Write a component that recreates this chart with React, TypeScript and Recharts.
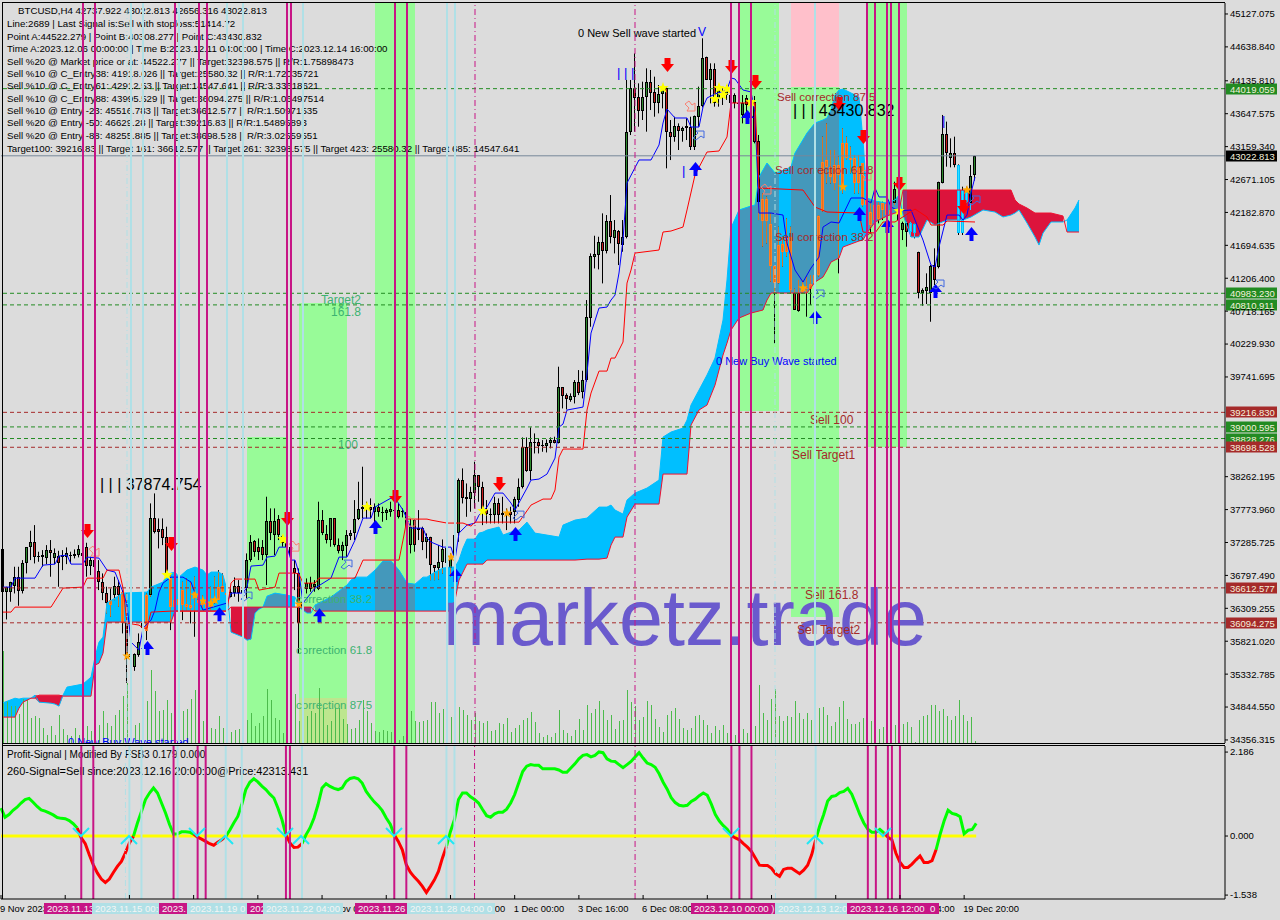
import React from "react";
import { Area, Bar, ComposedChart, Line, ReferenceArea, ReferenceLine, XAxis, YAxis } from "recharts";

const FONT = "'Liberation Sans', Arial, sans-serif";
const SLOTS = 306;
const PRICE_MIN = 34311;
const PRICE_MAX = 45290;

const opens = [
  37183,36555,36555,36639,36778,36570,36975,37213,37297,37074,37094,37050,37173,37050,37084,37074,37074,37104,37089,37099,
  37084,37213,36941,37025,36867,36693,36530,36357,36505,36639,36555,36085,35590,35442,35615,36011,35976,36505,37643,37485,
  37485,37361,36753,36332,36441,36580,36372,36317,36555,36446,36431,36382,36332,36382,36431,36639,36540,36471,36530,36639,
  36580,36604,37025,37307,37213,37213,37099,37604,37396,37628,37272,37272,37213,36901,36827,36308,36590,36679,36629,36590,
  37619,37411,37322,37643,37247,37163,37233,37381,37421,37628,37777,37841,37816,37742,37807,37742,37717,37742,37767,37767,
  37742,37742,37247,37619,37495,37495,37297,37361,36950,36901,37000,37197,36901,37074,37420,38212,37964,37925,38024,38286,
  38113,37766,37687,37692,37875,37697,37717,37742,37732,37915,38103,38696,38350,38766,38771,38721,38721,38766,38805,38766,
  39587,39473,39399,39448,39666,39513,39696,40620,41526,41555,41738,41615,42055,41798,41911,41699,41822,43381,44034,43890,
  43692,43890,44113,43974,43811,43940,44024,43371,43307,43465,43396,43430,43455,43158,43603,43762,44484,44148,44311,43875,
  43950,43925,43925,43811,43791,43628,43876,43826,43826,43243,42055,42377,42011,41388,41140,41709,41595,41823,40982,40982,
  41007,41041,41041,41120,41254,42209,42961,42862,42614,42887,42565,43208,42985,42985,42614,42911,42367,42194,42070,42080,
  42219,42308,42219,42328,42219,41922,42021,41897,42011,41590,40992,41021,40982,41402,41378,42624,43347,42985,43060,42887,
  41882,42491,42318,42738,
];
const highs = [
  37198,36629,36703,36926,36926,37025,37213,37460,37544,37149,37173,37247,37322,37198,37163,37173,37213,37149,37183,37247,
  37198,37282,37074,37173,37025,36827,36629,36604,36778,36728,36580,36530,35739,35640,35937,36110,36530,37866,38014,37643,
  37643,37520,36827,36802,36778,36703,36753,36703,36778,36728,36505,36555,36629,36778,36876,36827,36580,36604,36768,36728,
  36728,37124,37396,37322,37346,37322,37965,37792,37792,37693,37396,37322,37223,37025,36901,36431,36753,36778,36728,37891,
  37767,37544,37643,37643,37346,37297,37470,37470,37915,38187,38410,37891,37940,37866,37866,37816,37792,37891,38014,37866,
  37792,37767,37643,37643,37767,37520,37421,37371,36950,37247,37331,37247,37123,37420,38236,38385,38162,38113,38484,38286,
  38187,37915,37791,37964,37940,37964,37791,37816,37964,38236,38845,38845,38993,38904,38830,38805,38815,38845,38855,39894,
  39587,39498,39498,39696,39844,39834,40883,41575,41837,41822,42169,42144,42441,42070,41921,42070,44148,44148,44543,44098,
  44123,44321,44296,44197,44073,44073,44049,43554,43603,43504,43455,43579,43603,43620,44049,44766,44494,44395,44395,44073,
  44024,44073,44123,43950,43925,43925,43925,43925,43910,43332,42466,42417,42169,41402,41971,41823,42095,41971,41050,41180,
  41180,41229,41254,41378,42144,43307,43505,43109,43109,43010,43431,43307,43159,43035,43035,42911,42392,42342,42367,42342,
  42342,42367,42367,42639,42328,42046,42046,42046,42021,41600,41056,41279,41402,41650,42639,43629,43530,43282,43307,42896,
  42565,42565,42887,43023,
];
const lows = [
  36332,36144,36407,36530,36347,36530,36827,37025,36975,37000,36926,36965,36778,36965,36629,36876,36965,36975,37050,37065,
  37025,36778,36802,36778,36580,36431,36233,36184,36431,36332,35937,35204,35442,35382,35590,35862,35838,36481,37421,37198,
  37247,36778,35986,35986,35986,36134,36283,36085,35887,36308,36283,36283,36283,36382,36431,36555,36332,36471,36481,36407,
  36481,36456,37000,37074,37025,37025,36654,37322,37099,37322,37223,37074,36926,36580,35640,36085,36530,36555,36555,36580,
  37396,37272,37223,37223,37124,37025,37074,37322,37322,37619,37643,37643,37643,37569,37668,37594,37619,37668,37668,37643,
  37658,37396,37124,37149,37322,37173,37050,36727,36727,36737,36826,36925,36777,36925,37296,37865,37667,37742,37791,37890,
  37544,37569,37569,37569,37569,37569,37470,37569,37569,37816,38088,38335,38212,38607,38607,38632,38622,38682,38756,38756,
  39275,39260,39374,39349,39473,39424,39671,40487,41352,41338,41130,41575,41724,41575,41402,41600,41798,43331,43381,43455,
  43554,43381,43702,43603,43653,43727,42837,42960,43232,43109,43232,43257,43109,43109,43455,43742,44148,43801,43752,43752,
  43777,43851,43603,43727,43603,43504,43554,43603,43208,42070,41675,41724,41155,40240,41130,41378,41526,40982,40735,40710,
  40982,40636,40809,41081,41229,42194,42614,42614,42515,41279,42466,42961,42763,42466,42466,42268,41947,41872,41947,42021,
  42070,41971,41897,42293,41971,41773,41674,41823,41798,40908,40799,40824,40561,40982,41353,42614,42862,42852,42852,41848,
  41848,42318,42219,42656,
];
const closes = [
  36555,36629,36703,36778,36570,36975,37213,37297,37074,37089,37074,37173,37124,37134,36975,37099,37134,37094,37109,37183,
  37124,36941,37025,36926,36693,36530,36382,36431,36644,36505,36085,35590,35625,35625,35808,36085,36505,37643,37445,37445,
  37346,36827,36332,36431,36357,36357,36332,36357,36466,36392,36357,36308,36407,36456,36629,36555,36505,36555,36639,36530,
  36530,37025,37297,37149,37149,37099,37604,37421,37609,37396,37381,37213,37099,36827,36085,36407,36679,36590,36669,37619,
  37421,37322,37643,37247,37163,37247,37396,37431,37628,37777,37807,37777,37767,37816,37742,37727,37767,37777,37757,37668,
  37757,37520,37510,37247,37470,37297,37361,36950,36911,37000,37183,36975,37049,37395,38212,37949,37925,38039,38286,38103,
  37717,37702,37702,37865,37692,37717,37737,37692,37930,38103,38696,38350,38781,38781,38721,38731,38756,38805,38766,39587,
  39463,39409,39458,39666,39508,39696,40626,41536,41565,41738,41615,42060,41813,41921,41709,41822,43381,44034,43875,43692,
  43890,44113,43960,43811,43940,44024,43371,43307,43465,43396,43440,43465,43158,43613,43762,44469,44148,44306,43801,44024,
  43890,44024,43801,43925,43801,43801,43777,43791,43232,42342,42377,42055,41388,41140,41699,41595,41823,41031,40735,40725,
  41081,41056,41120,41254,42130,42936,42852,42713,42887,42738,43208,42985,42961,42614,42852,42293,42293,41996,42293,42293,
  42318,42144,42144,42525,42070,42021,41897,42021,41872,40992,41031,41081,41388,41180,42639,43347,43060,43060,42887,41882,
  42515,42342,42728,43023,
];
const volumes = [
  920,420,370,370,290,440,430,250,270,250,150,80,170,80,280,140,80,70,150,80,
  200,170,120,270,180,320,200,170,280,330,470,600,270,180,200,230,420,730,520,320,
  330,430,300,300,370,320,340,440,530,300,220,200,150,140,270,150,250,110,130,140,
  180,230,300,170,200,270,540,430,250,230,100,130,120,490,220,200,270,320,300,550,
  350,180,220,350,350,240,190,140,150,230,430,320,200,120,110,130,120,110,70,30,
  70,100,320,220,210,220,230,410,410,300,340,150,260,200,360,330,280,230,300,220,
  200,220,120,130,200,190,250,110,150,180,230,250,310,210,100,60,80,60,100,330,
  130,100,70,130,240,130,380,300,340,420,330,230,280,140,220,230,530,410,370,230,
  260,420,380,240,160,110,280,320,350,240,150,130,150,270,280,230,180,100,170,130,
  180,100,130,80,100,140,100,200,170,580,300,230,440,540,270,220,270,260,420,300,
  240,300,230,370,350,360,280,170,210,360,420,240,190,190,210,250,300,220,270,140,
  160,200,150,180,150,190,210,160,10,230,270,280,380,380,320,340,270,230,270,430,
  280,220,260,20,
];

// conversion line, sparse [bar, price]
const tenkan = [
  [0,36624],[2,36624],[3,36757],[8,36757],[10,36950],[13,36965],[14,37084],[16,37099],[17,36965],[20,36965],[21,37069],[24,37054],
  [26,36876],[28,36847],[30,36550],[31,36357],[32,35808],[34,35689],[35,36015],[37,36134],[38,36283],[39,36550],[40,36683],[42,36772],
  [45,36772],[47,36698],[48,36535],[50,36283],[56,36387],[57,36535],[60,36535],[61,36624],[62,36936],[65,36950],[66,37069],[68,37084],
  [69,37217],[71,37217],[72,37025],[73,37025],[74,36832],[75,36387],[78,36609],[82,36757],[84,37069],[86,37069],[88,37321],[90,37648],
  [92,37648],[93,37811],[97,37945],[98,37945],[100,37767],[101,37633],[102,37499],[105,37499],[106,37351],[107,37292],[110,37217],[112,37217],
  [113,37025],[114,37425],[116,37544],[118,37574],[119,37692],[121,37811],[123,38019],[125,38019],[127,37871],[128,37767],[131,38093],[132,38212],
  [134,38227],[136,38301],[138,38538],[139,38998],[140,39043],[141,39251],[145,39295],[146,39800],[147,40393],[149,40764],[151,40779],[152,40883],
  [153,40957],[154,41284],[155,41773],[156,42619],[159,42961],[162,42961],[164,43183],[165,43510],[166,43717],[168,43584],[171,43584],[172,43450],
  [174,43450],[175,43747],[176,43881],[178,43940],[181,43999],[182,44177],[183,44163],[185,43999],[187,43970],[188,43658],[189,42174],[192,42174],
  [195,42144],[196,41729],[198,41328],[200,41150],[202,41358],[204,41521],[205,41966],[207,42041],[209,42026],[212,42397],[215,42397],[217,42322],
  [218,42545],[219,42412],[221,42412],[222,42263],[224,42204],[227,42219],[230,41773],[232,41402],[233,41373],[234,41670],[236,42144],[239,42144],
  [240,42070],[241,42144],[242,42471],[243,42708],
];
// base line, sparse [bar, price]
const kijun = [
  [0,36253],[2,36253],[3,36327],[12,36327],[15,36609],[20,36624],[21,36757],[25,36757],[26,36876],[29,36876],[30,36609],[31,36090],
  [34,36060],[35,36015],[36,36015],[37,36253],[42,36268],[56,36268],[57,36683],[58,36743],[63,36743],[64,36579],[68,36624],[69,36832],
  [73,36832],[74,36817],[75,36683],[78,36683],[79,36757],[88,36757],[90,37025],[99,37025],[100,37321],[101,37633],[106,37633],[107,37618],
  [111,37574],[115,37574],[117,37529],[118,37588],[129,37588],[132,37841],[135,37930],[137,37930],[138,38064],[139,38553],[140,38672],[145,38672],
  [146,39251],[147,39503],[149,39829],[151,39829],[152,40022],[153,40022],[155,40260],[156,41135],[157,41328],[158,41580],[164,41625],[165,41892],
  [167,41907],[170,41966],[171,42219],[173,42738],[176,43079],[179,43094],[181,43302],[182,43807],[188,43807],[189,42545],[200,42515],[203,42263],
  [206,42189],[214,42174],[215,41892],[218,41877],[220,42041],[223,42041],[228,42233],[231,42115],[232,41996],[235,41996],[236,42055],[243,42041],
];
// cloud edges at the same bars: [bar, upper, lower]
const cloud = [
  [0,34907,34695],[3,34976,34695],[4,34962,34828],[5,34976,34917],[7,34976,34976],[8,35021,34976],[9,35021,34917],[12,35021,34902],[13,35021,34888],
  [14,35021,34858],[15,35021,35006],[16,35140,35006],[20,35185,35006],[22,35288,35006],[23,35585,35466],[24,35808,35496],[25,35882,35644],[26,36387,36105],
  [30,36535,36105],[36,36550,36105],[37,36624,36105],[40,36698,36105],[41,36802,36105],[42,36832,36105],[43,36847,36268],[44,36772,36268],[46,36876,36268],
  [48,36921,36268],[50,36876,36268],[51,36802,36268],[52,36847,36268],[54,36847,36268],[55,36802,36268],[56,36579,36268],[57,36327,35956],[60,36327,35882],
  [61,36327,35837],[62,36327,35852],[63,36327,36238],[64,36327,36297],[65,36327,36327],[66,36490,36327],[68,36535,36327],[71,36505,36327],[73,36476,36327],
  [74,36327,36327],[76,36327,36238],[77,36327,36238],[78,36357,36268],[82,36476,36268],[86,36654,36268],[87,36728,36268],[88,36772,36268],[91,36772,36268],
  [93,36876,36268],[95,37010,36268],[97,37010,36268],[99,36876,36268],[101,36683,36268],[103,36668,36268],[105,36772,36268],[106,36772,36268],[108,36847,36268],
  [110,36906,36268],[112,36921,36268],[113,36921,36431],[114,37025,36728],[115,37203,36847],[116,37336,36965],[118,37336,36965],[119,37425,36965],[120,37440,36965],
  [121,37470,37025],[124,37515,37025],[125,37396,37025],[127,37440,37025],[129,37470,37025],[131,37588,37025],[133,37425,37025],[139,37366,37025],[140,37544,37025],
  [143,37618,37025],[146,37648,37039],[149,37811,37039],[151,37811,37054],[152,37841,37247],[153,37767,37366],[155,37707,37366],[156,37915,37663],[158,38019,37856],
  [161,38093,37856],[164,38212,37856],[165,38850,38301],[167,38924,38301],[170,38983,38301],[171,39102,38301],[172,39325,39028],[174,39547,39251],[176,39770,39325],
  [178,40022,39621],[180,40586,40067],[181,41180,40245],[182,41951,40438],[184,42219,40616],[187,42278,40690],[188,42293,40705],[189,42708,40720],[190,42812,40735],
  [191,42916,40883],[192,42842,40987],[193,42768,40987],[194,42783,40987],[197,42857,40987],[198,43064,40987],[201,43361,40987],[203,43510,41150],[205,43554,41224],
  [206,43584,41328],[207,43703,41447],[208,43925,41477],[209,43999,41506],[210,44014,41670],[214,43896,41759],[215,43257,41774],[216,42397,41877],[218,42352,42041],
  [221,42322,42130],[223,42367,42174],[224,42441,42189],[225,42515,42144],[226,42515,41981],[227,42515,41818],[229,42515,41818],[231,42515,42070],[233,42515,41996],
  [236,42515,42070],[240,42515,42070],[242,42515,42115],[245,42515,42219],[248,42515,42189],[250,42515,42115],[252,42515,42144],[253,42367,42174],[254,42308,42219],
  [256,42248,42026],[258,42174,41818],[259,42174,41699],[260,42174,41877],[262,42174,42041],[265,42130,42041],[266,42070,41892],[268,42248,41892],[269,42367,41892],
];
const redCloud = [[8,15],[57,65],[74,77],[225,265]];
const blueCloud = [[0,8],[15,56],[65,73],[78,224],[266,269]];

const sellArrows = [[21,37455],[42,37262],[71,37633],[98,37959],[124,38152],[166,44370],[182,44341],[188,44118],[209,43792],[215,43302],[224,42605],[240,42263]];
const buyArrows = [[36,35719],[54,36223],[79,36208],[93,37515],[113,36802],[128,37411],[173,42827],[186,43599],[214,42159],[203,40631],[221,41981],[233,41017],[242,41862]];
const yellowStars = [[41,36802],[70,37336],[91,37811],[120,37752],[165,44029],[178,43866],[179,44029],[180,43925],[181,44014],[187,43821],[224,42204]];
const orangeStars = [[31,35600],[48,36505],[50,36416],[52,36387],[53,36431],[74,36372],[112,37069],[126,37722],[200,41061],[210,42560],[241,42515]];
const sellHollow = [[23,37143],[73,37217],[102,37588],[172,43747],[191,42515],[216,42723]];
const buyHollow = [[61,36520],[86,36995],[129,37722],[174,43361],[204,41002],[234,41150],[243,42397]];

const oscillator = [
  0.73,0.49,0.56,0.67,0.75,0.86,0.95,0.98,0.88,0.77,0.68,0.65,0.60,0.55,0.48,0.46,0.45,0.40,0.32,0.21,
  -0.05,-0.20,-0.49,-0.75,-0.96,-1.12,-1.21,-1.12,-0.95,-0.79,-0.66,-0.44,-0.18,-0.01,0.34,0.64,0.95,1.12,1.25,1.12,
  0.86,0.60,0.30,0.05,0.06,0.11,0.11,0.10,0.05,-0.03,-0.08,-0.14,-0.20,-0.24,-0.16,-0.10,-0.01,0.15,0.34,0.51,
  0.82,1.21,1.40,1.49,1.41,1.30,1.21,1.09,0.99,0.73,0.43,0.03,-0.18,-0.30,-0.29,-0.20,0.03,0.21,0.47,0.82,
  1.25,1.36,1.29,1.24,1.21,1.25,1.42,1.50,1.52,1.49,1.38,1.16,1.02,0.89,0.79,0.66,0.47,0.31,0.03,-0.14,
  -0.36,-0.75,-0.94,-1.07,-1.18,-1.31,-1.47,-1.31,-1.14,-0.92,-0.57,-0.27,0.12,0.43,0.95,1.12,1.12,1.02,0.95,0.86,
  0.69,0.53,0.49,0.58,0.62,0.62,0.70,0.86,1.08,1.38,1.68,1.82,1.86,1.84,1.84,1.75,1.75,1.75,1.75,1.72,
  1.66,1.66,1.77,1.88,2.01,2.10,2.12,2.06,2.10,2.19,2.17,2.01,1.95,1.94,1.86,1.78,1.86,1.94,2.06,2.17,
  2.03,1.90,1.86,1.79,1.62,1.40,1.22,1.00,0.87,0.80,0.78,0.80,0.90,0.96,1.05,1.12,1.06,0.83,0.56,0.39,
  0.27,0.17,0.01,-0.05,-0.10,-0.20,-0.29,-0.40,-0.58,-0.76,-0.77,-0.77,-0.84,-0.98,-1.05,-0.87,-0.84,-0.84,-0.91,-0.98,
  -0.89,-0.76,-0.49,-0.10,0.26,0.56,0.91,1.03,1.05,1.13,1.16,1.24,1.09,0.83,0.56,0.34,0.18,0.10,0.10,0.17,
  0.08,-0.03,-0.10,-0.45,-0.68,-0.82,-0.82,-0.73,-0.62,-0.52,-0.69,-0.69,-0.64,-0.36,0.04,0.39,0.67,0.59,0.56,0.50,
  0.06,0.15,0.17,0.33,
];
const crossDown = [20,49,71,98,182,220];
const crossUp = [32,56,75,111,203];

const magentaLines = [20,23,43,49,51,71,72,98,101,182,184,187,216,218,221,222,224];
const lightBlueLines = [32,35,44,56,60,75,111,113,203];
const dashedBlueLines = [31,193];
const dashedMagentaLines = [118,158];

const priceTicks = [45127.075,44638.84,44135.81,43647.575,43159.34,42671.105,42182.87,41694.635,41206.4,40718.165,40229.93,39741.695,38262.195,37773.96,37285.725,36797.49,36309.255,35821.02,35332.785,34844.55,34356.315];
const oscTicks = [2.186,0,-1.538];
const dateTicks = [0,16,32,48,64,80,96,112,128,144,160,176,192,208,224,240];
const dateLabels = ["9 Nov 2023 16:00","12 Nov 08:00","15 Nov 00:00","17 Nov 16:00","20 Nov 08:00","23 Nov 00:00","25 Nov 16:00","28 Nov 08:00","1 Dec 00:00","3 Dec 16:00","6 Dec 08:00","9 Dec 00:00","11 Dec 16:00","14 Dec 08:00","17 Dec 04:00","19 Dec 20:00"];

const levels = [
  [44019.059,"#228B22"],[40983.23,"#228B22"],[40810.911,"#228B22"],[39216.83,"#A52A2A"],[39000.595,"#228B22"],
  [38828.276,"#228B22"],[38698.528,"#A52A2A"],[36612.577,"#A52A2A"],[36094.275,"#A52A2A"],
];
const lastPrice = 43022.813;

// [first bar, last bar, low price, high price, colour]
const bandAreas = [
  [61,71,PRICE_MIN,38850,"#98FB98"],[74,86,PRICE_MIN,40839,"#98FB98"],[74,86,PRICE_MIN,34980,"#BDE68E"],[93,103,PRICE_MIN,PRICE_MAX,"#98FB98"],
  [184,194,39236,PRICE_MAX,"#98FB98"],[197,209,36179,44044,"#98FB98"],[197,209,44044,PRICE_MAX,"#FFC0CB"],[216,226,38702,PRICE_MAX,"#98FB98"],
];
const bands = [[61,71],[74,86],[93,103],[184,194],[197,209],[216,226]];

const infoLines = [
  "BTCUSD,H4  42737.922 43022.813 42656.316 43022.813",
  "Line:2689 | Last Signal is:Sell with stoploss:51414.72",
  "Point A:44522.279 | Point B:40308.277 | Point C:43430.832",
  "Time A:2023.12.06 00:00:00 | Time B:2023.12.11 04:00:00 | Time C:2023.12.14 16:00:00",
  "Sell %20 @ Market price or at: 44522.277 || Target:32398.575 || R/R:1.75898473",
  "Sell %10 @ C_Entry38: 41918.026 || Target:25580.32 || R/R:1.72035721",
  "Sell %10 @ C_Entry61: 42912.53 || Target:14547.641 || R/R:3.33618621",
  "Sell %10 @ C_Entry88: 43995.529 || Target:36094.275 || R/R:1.06497514",
  "Sell %10 @ Entry -23: 45516.783 || Target:36612.577 || R/R:1.50971535",
  "Sell %20 @ Entry -50: 46629.28 || Target:39216.83 || R/R:1.54895893",
  "Sell %20 @ Entry -88: 48255.885 || Target:38698.528 || R/R:3.02559551",
  "Target100: 39216.83 || Target 161: 36612.577 || Target 261: 32398.575 || Target 423: 25580.32 || Target 685: 14547.641",
];

const dateTags = [
  [44,92,"2023.11.13","#C71585"],[92,159,"2023.11.15 00:0","#B0E0E6"],[159,187,"2023.","#C71585"],[187,247,"2023.11.19 0","#B0E0E6"],
  [247,263,"202","#C71585"],[263,343,"2023.11.22 04:00","#B0E0E6"],[355,407,"2023.11.26","#C71585"],[407,495,"2023.11.28 04:00 0","#B0E0E6"],
  [691,775,"2023.12.10 00:00 )","#C71585"],[775,847,"2023.12.13 12:0","#B0E0E6"],[847,939,"2023.12.16 12:00  0","#C71585"],
];

const pick = (list: number[][], i: number) => {
  const hit = list.find((p) => p[0] === i);
  return hit ? hit[1] : null;
};
const inRanges = (ranges: number[][], i: number) => ranges.some((r) => i >= r[0] && i <= r[1]);

const rows = Array.from({ length: SLOTS }, (_, i) => {
  const c = cloud.find((p) => p[0] === i);
  const isRed = inRanges(redCloud, i) && !(i === 8 || i === 15 || i === 65);
  return {
    i,
    open: opens[i] ?? null,
    high: highs[i] ?? null,
    low: lows[i] ?? null,
    close: closes[i] ?? null,
    range: highs[i] != null ? [lows[i], highs[i]] : null,
    volume: volumes[i] ?? null,
    tenkan: pick(tenkan, i),
    kijun: pick(kijun, i),
    upper: c ? c[1] : null,
    lower: c ? c[2] : null,
    spanA: c ? (isRed ? c[2] : c[1]) : null,
    spanB: c ? (isRed ? c[1] : c[2]) : null,
    sell: pick(sellArrows, i),
    buy: pick(buyArrows, i),
    yellow: pick(yellowStars, i),
    orange: pick(orangeStars, i),
    sellH: pick(sellHollow, i),
    buyH: pick(buyHollow, i),
  };
});

const oscRows = Array.from({ length: SLOTS }, (_, i) => {
  const v = oscillator[i];
  const next = oscillator[i + 1];
  return {
    i,
    green: v != null && (v >= 0 || next >= 0) ? v : null,
    red: v != null && (v <= 0 || next <= 0) ? v : null,
    zero: v != null ? 0 : null,
    down: crossDown.includes(i) ? 0 : null,
    up: crossUp.includes(i) ? 0 : null,
  };
});

// only used to tint the candle parts that sit over the cloud
const cloudAt = (i: number) => {
  let a = cloud[0];
  let b = cloud[cloud.length - 1];
  if (i > b[0]) return null;
  for (const p of cloud) {
    if (p[0] <= i) a = p;
    if (p[0] >= i) {
      b = p;
      break;
    }
  }
  const t = b[0] === a[0] ? 0 : (i - a[0]) / (b[0] - a[0]);
  return { upper: a[1] + (b[1] - a[1]) * t, lower: a[2] + (b[2] - a[2]) * t, red: inRanges(redCloud, i) };
};

const Candle = (props: any) => {
  const { x, width, y, height, payload } = props;
  if (payload.high == null) return null;
  const cx = Math.floor(x + width / 2);
  const unit = height / Math.max(1, payload.high - payload.low);
  const py = (v: number) => y + (payload.high - v) * unit;
  const c = cloudAt(payload.i);
  const up = payload.close >= payload.open;
  const top = Math.round(py(Math.max(payload.open, payload.close)));
  const bot = Math.round(py(Math.min(payload.open, payload.close)));
  const mid = (payload.open + payload.close) / 2;
  const tinted = c && mid <= c.upper && mid >= c.lower;
  const wickTint = c ? (c.red ? "#20CFFF" : "#D2752A") : null;
  const w1 = c ? py(Math.min(payload.high, c.upper)) : 0;
  const w2 = c ? py(Math.max(payload.low, c.lower)) : 0;
  const outer = tinted ? (c!.red ? "#00BFFF" : "#FF7F27") : "#000";
  const inner = tinted ? (c!.red ? "#30E0FF" : "#E8701A") : up ? "#2E8B2E" : "#C81E1E";
  return (
    <g>
      <rect x={cx} y={y} width={1} height={height} fill="#000" />
      {c && w2 > w1 && <rect x={cx} y={w1} width={1} height={w2 - w1} fill={wickTint!} />}
      <rect x={cx - 1} y={top} width={3} height={Math.max(1, bot - top)} fill={outer} />
      {bot - top > 2 && <rect x={cx} y={top + 1} width={1} height={bot - top - 2} fill={inner} />}
    </g>
  );
};

const VolumeBar = (props: any) => {
  const { x, width, y, height, payload } = props;
  if (payload.volume == null) return null;
  return <rect x={Math.floor(x + width / 2)} y={y} width={1} height={height} fill="#4CBB4C" />;
};

const marker = (draw: (cx: number, cy: number) => React.ReactNode) => (props: any) => {
  const { cx, cy, index } = props;
  if (cy == null || cx == null) return <g key={index} />;
  return <g key={index}>{draw(Math.floor(cx), cy)}</g>;
};

const downArrow = marker((x, y) => (
  <path d={`M${x - 2.5},${y - 7}H${x + 3.5}V${y - 1}H${x + 7}L${x + 0.5},${y + 7}L${x - 6},${y - 1}H${x - 2.5}Z`} fill="#FF0000" />
));
const upArrow = marker((x, y) => (
  <path d={`M${x - 1.5},${y + 7}H${x + 2.5}V${y + 1}H${x + 7}L${x + 0.5},${y - 7}L${x - 6},${y + 1}H${x - 1.5}Z`} fill="#0000FF" />
));
const star = (x: number, y: number, r: number, fill: string) => {
  const pts = [];
  for (let k = 0; k < 10; k++) {
    const rad = k % 2 === 0 ? r : r * 0.42;
    const a = (Math.PI / 5) * k - Math.PI / 2;
    pts.push(`${x + rad * Math.cos(a)},${y + rad * Math.sin(a)}`);
  }
  return <polygon points={pts.join(" ")} fill={fill} />;
};
const yellowStar = marker((x, y) => star(x, y, 6, "#FFFF00"));
const orangeStar = marker((x, y) => star(x, y, 5, "#FFA500"));
const hollowDown = marker((x, y) => (
  <path d={`M${x - 6},${y - 3}L${x - 2},${y - 6}L${x + 1},${y - 2}L${x + 4},${y - 4}L${x + 4},${y + 4}L${x - 4},${y + 4}L${x - 2},${y + 1}Z`} fill="none" stroke="#FA8072" />
));
const hollowUp = marker((x, y) => (
  <path d={`M${x - 6},${y + 5}L${x - 1},${y}L${x - 3},${y - 2}H${x + 5}V${y + 5}L${x + 2},${y + 3}L${x - 3},${y + 7}Z`} fill="none" stroke="#4169E1" />
));
const crossV = marker((x, y) => (
  <path d={`M${x - 8},${y - 8}L${x},${y}L${x + 8},${y - 8}`} fill="none" stroke="#20E8F5" strokeWidth={2} />
));
const crossA = marker((x, y) => (
  <path d={`M${x - 8},${y + 8}L${x},${y}L${x + 8},${y + 8}`} fill="none" stroke="#20E8F5" strokeWidth={2} />
));

const PriceTag = ({ viewBox, value, fill }: any) => {
  const y = Math.round(viewBox.y);
  return (
    <g>
      <rect x={1226} y={y - 5.5} width={51} height={11} fill={fill} />
      <text x={1230} y={y + 4} fontSize={9.5} fontFamily={FONT} fill="#F5F0DC">{value.toFixed(3)}</text>
    </g>
  );
};

const DateTick = ({ x, y, payload }: any) => (
  <g>
    <line x1={x} x2={x} y1={y - 12} y2={y - 8} stroke="#000" />
    <text x={x - 1} y={y + 5} fontSize={9.4} fontFamily={FONT} fill="#000">{dateLabels[dateTicks.indexOf(payload.value)]}</text>
  </g>
);

const verticals = () => [
  ...dashedBlueLines.map((i) => <ReferenceLine key={`db${i}`} x={i} stroke="#B0E0E6" strokeDasharray="6 3 1 3" />),
  ...dashedMagentaLines.map((i) => <ReferenceLine key={`dm${i}`} x={i} stroke="#C71585" strokeDasharray="6 3 1 3" />),
  ...lightBlueLines.map((i) => <ReferenceLine key={`lb${i}`} x={i} stroke="#B0E0E6" strokeWidth={2} />),
  ...magentaLines.map((i) => <ReferenceLine key={`mg${i}`} x={i} stroke="#C71585" strokeWidth={2} />),
];

const cloudArea = (from: number, to: number, color: string, key: string) => (
  <Area
    key={key}
    dataKey={(r: any) => (r.i >= from && r.i <= to && r.upper != null ? [r.lower, r.upper] : null)}
    fill={color}
    fillOpacity={1}
    stroke="none"
    connectNulls
    dot={false}
    activeDot={false}
    isAnimationActive={false}
  />
);

const cloudAreas = () => {
  const out: React.ReactNode[] = [];
  blueCloud.forEach((s) => out.push(cloudArea(s[0], s[1], "#00BFFF", `b${s[0]}`)));
  redCloud.forEach((s) => out.push(cloudArea(s[0], s[1], "#DC143C", `r${s[0]}`)));
  bands.forEach((b) => {
    blueCloud.forEach((s) => {
      const from = Math.max(b[0], s[0]);
      const to = Math.min(b[1], s[1]);
      if (from < to) out.push(cloudArea(from, to, "#4498BB", `bd${b[0]}-${s[0]}`));
    });
    redCloud.forEach((s) => {
      const from = Math.max(b[0], s[0]);
      const to = Math.min(b[1], s[1]);
      if (from < to) out.push(cloudArea(from, to, "#983378", `rd${b[0]}-${s[0]}`));
    });
  });
  return out;
};

const seriesLine = (dataKey: string, stroke: string) => (
  <Line dataKey={dataKey} stroke={stroke} strokeWidth={1} dot={false} activeDot={false} connectNulls isAnimationActive={false} />
);
const markerLine = (dataKey: string, dot: any) => (
  <Line dataKey={dataKey} stroke="none" dot={dot} activeDot={false} isAnimationActive={false} />
);

const Label = ({ x, y, fill = "#000", size = 11, children }: any) => (
  <text x={x} y={y} fill={fill} fontSize={size} fontFamily={FONT}>{children}</text>
);

// a layer that shares the price pane's plot box and scales, with its axes hidden
const OverlayChart = ({ children }: any) => (
  <div style={{ position: "absolute", left: 0, top: 0 }}>
    <ComposedChart width={1280} height={745} data={rows} margin={{ top: 3, right: 55, bottom: 2, left: 1 }}>
      <XAxis dataKey="i" hide type="number" domain={[-0.5, SLOTS - 0.5]} allowDataOverflow />
      <YAxis hide type="number" domain={[PRICE_MIN, PRICE_MAX]} allowDataOverflow />
      {children}
    </ComposedChart>
  </div>
);

export default function App() {
  return (
    <div style={{ position: "fixed", left: 0, top: 0, width: 1280, height: 920, background: "#DCDCDC", overflow: "hidden" }}>
      <OverlayChart>
        {bandAreas.map((b, k) => (
          <ReferenceArea key={k} x1={b[0] as number} x2={b[1] as number} y1={b[2] as number} y2={b[3] as number} fill={b[4] as string} fillOpacity={1} stroke="none" />
        ))}
      </OverlayChart>

      <div style={{ position: "absolute", left: 0, top: 0 }}>
        <ComposedChart width={1280} height={745} data={rows} margin={{ top: 3, right: 0, bottom: 2, left: 1 }} barCategoryGap={0} barGap={0}>
          <XAxis dataKey="i" hide type="category" interval={0} />
          <XAxis dataKey="i" xAxisId="vol" hide type="category" interval={0} />
          <YAxis
            orientation="right"
            width={55}
            type="number"
            domain={[PRICE_MIN, PRICE_MAX]}
            allowDataOverflow
            ticks={priceTicks}
            interval={0}
            tickFormatter={(v: number) => v.toFixed(3)}
            tick={{ fontSize: 9.5, fill: "#000", fontFamily: FONT }}
            tickSize={3}
            tickMargin={2}
            stroke="#000"
          />
          <YAxis yAxisId="vol" hide type="number" domain={[0, 7400]} />

          <Bar dataKey="volume" xAxisId="vol" yAxisId="vol" shape={VolumeBar} isAnimationActive={false} />
          {cloudAreas()}
          {seriesLine("spanA", "#00BFFF")}
          {seriesLine("spanB", "#F01030")}
          <Bar dataKey="range" barSize={4} shape={Candle} isAnimationActive={false} />
          {seriesLine("tenkan", "#0000FF")}
          {seriesLine("kijun", "#FF0000")}

          {levels.map((l) => (
            <ReferenceLine
              key={String(l[0])}
              y={l[0] as number}
              stroke={l[1] as string}
              strokeDasharray="4 3"
              label={(p: any) => <PriceTag {...p} value={l[0]} fill={l[1]} />}
            />
          ))}
          <ReferenceLine y={lastPrice} stroke="#778899" label={(p: any) => <PriceTag {...p} value={lastPrice} fill="#000" />} />

          {markerLine("sell", downArrow)}
          {markerLine("buy", upArrow)}
          {markerLine("yellow", yellowStar)}
          {markerLine("orange", orangeStar)}
          {markerLine("sellH", hollowDown)}
          {markerLine("buyH", hollowUp)}
        </ComposedChart>
      </div>

      <svg width={1225} height={743} style={{ position: "absolute", left: 0, top: 0 }}>
        <text x={443} y={645} fontSize={80} textLength={484} lengthAdjust="spacingAndGlyphs" fontFamily={FONT} fill="#6A5ACD">marketz.trade</text>
        {infoLines.map((t, k) => (
          <Label key={k} x={k === 0 ? 18 : 7} y={[14,27,40,52,65,77,89,102,114,126,139,152][k]} size={9.7}>{t}</Label>
        ))}
        <Label x={100} y={490} size={16}>{"| | | 37874.754"}</Label>
        <Label x={793} y={116} size={16}>{"| | | 43430.832"}</Label>
        <Label x={578} y={37}>0 New Sell wave started</Label>
        <Label x={716} y={365} fill="#0000FF">0 New Buy Wave started</Label>
        <Label x={68} y={746} fill="#0000FF">0 New Buy Wave started</Label>
        <Label x={617} y={77} fill="#0000FF" size={13}>{"| | |"}</Label>
        <Label x={682} y={175} fill="#0000FF" size={13}>|</Label>
        <Label x={942} y={125} fill="#0000FF" size={13}>|</Label>
        <Label x={698} y={36} fill="#0000FF" size={12}>V</Label>
        <Label x={321} y={304} fill="#3CB371" size={12}>Target2</Label>
        <Label x={331} y={316} fill="#3CB371" size={12}>161.8</Label>
        <Label x={338} y={449} fill="#3CB371" size={12}>100</Label>
        <Label x={296} y={603} fill="#3CB371" size={11.5}>correction 38.2</Label>
        <Label x={296} y={654} fill="#3CB371" size={11.5}>correction 61.8</Label>
        <Label x={296} y={709} fill="#3CB371" size={11.5}>correction 87.5</Label>
        <Label x={777} y={101} fill="#A52A2A" size={11.5}>Sell correction 87.5</Label>
        <Label x={775} y={174} fill="#A52A2A" size={11.5}>Sell correction 61.8</Label>
        <Label x={775} y={241} fill="#A52A2A" size={11.5}>Sell correction 38.2</Label>
        <Label x={810} y={424} fill="#A52A2A" size={12}>Sell 100</Label>
        <Label x={792} y={459} fill="#A52A2A" size={12}>Sell Target1</Label>
        <Label x={805} y={599} fill="#A52A2A" size={12}>Sell 161.8</Label>
        <Label x={797} y={634} fill="#A52A2A" size={12}>Sell Target2</Label>
      </svg>

      <OverlayChart>{verticals()}</OverlayChart>

      <div style={{ position: "absolute", left: 0, top: 745 }}>
        <ComposedChart width={1280} height={175} data={oscRows} margin={{ top: 1, right: 0, bottom: 0, left: 1 }}>
          <XAxis dataKey="i" type="category" height={21} ticks={dateTicks} interval={0} axisLine={{ stroke: "#000" }} tickLine={false} tick={DateTick} />
          <YAxis
            orientation="right"
            width={55}
            type="number"
            domain={[-1.64, 2.344]}
            allowDataOverflow
            ticks={oscTicks}
            interval={0}
            tickFormatter={(v: number) => v.toFixed(3)}
            tick={{ fontSize: 9.5, fill: "#000", fontFamily: FONT }}
            tickSize={3}
            tickMargin={2}
            stroke="#000"
          />
          <Line dataKey="zero" stroke="#FFFF00" strokeWidth={3} dot={false} activeDot={false} isAnimationActive={false} />
          <Line dataKey="green" stroke="#00FF00" strokeWidth={3} dot={false} activeDot={false} isAnimationActive={false} />
          <Line dataKey="red" stroke="#FF0000" strokeWidth={3} dot={false} activeDot={false} isAnimationActive={false} />
          {markerLine("down", crossV)}
          {markerLine("up", crossA)}
          <Label x={7} y={13} size={10}>Profit-Signal | Modified By FSB3 0.179 0.000</Label>
          <Label x={7} y={30} size={11}>260-Signal=Sell since:2023.12.16 20:00:00@Price:42313.431</Label>
          {verticals()}
        </ComposedChart>
      </div>

      <div style={{ position: "absolute", left: 2, top: 2, width: 1223, height: 1, background: "#000" }} />
      <div style={{ position: "absolute", left: 2, top: 2, width: 1, height: 897, background: "#000" }} />
      <div style={{ position: "absolute", left: 2, top: 743, width: 1223, height: 1, background: "#000" }} />
      <div style={{ position: "absolute", left: 2, top: 745, width: 1223, height: 1, background: "#000" }} />
      {dateTags.map((t) => (
        <div
          key={String(t[0])}
          style={{
            position: "absolute",
            left: t[0] as number,
            top: 903,
            width: (t[1] as number) - (t[0] as number),
            height: 11,
            background: t[3] as string,
            color: "#F5F5F5",
            font: `9.6px ${FONT}`,
            lineHeight: "11px",
            paddingLeft: 3,
            boxSizing: "border-box",
            overflow: "hidden",
            whiteSpace: "pre",
          }}
        >
          {t[2]}
        </div>
      ))}
    </div>
  );
}
